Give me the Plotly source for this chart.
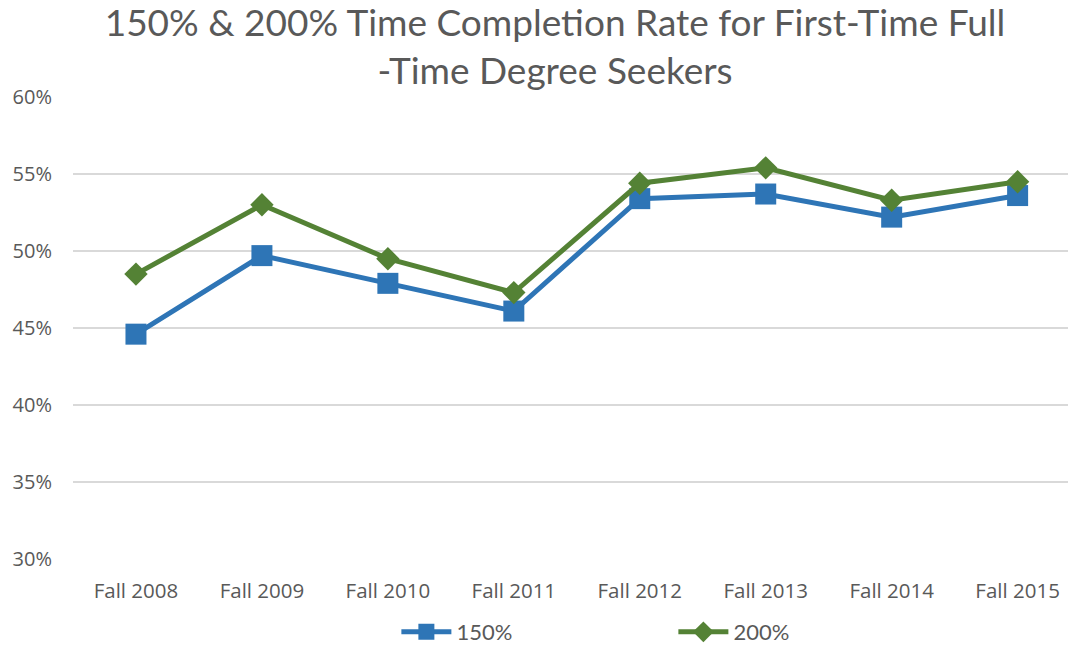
import plotly.graph_objects as go

# Cohort labels and completion rates (fractions)
cohorts = ["Fall 2008", "Fall 2009", "Fall 2010", "Fall 2011",
           "Fall 2012", "Fall 2013", "Fall 2014", "Fall 2015"]
rate_150 = [0.446, 0.497, 0.479, 0.461, 0.534, 0.537, 0.522, 0.536]
rate_200 = [0.485, 0.530, 0.495, 0.473, 0.544, 0.554, 0.533, 0.545]

y_ticks = [0.30, 0.35, 0.40, 0.45, 0.50, 0.55, 0.60]
y_tick_text = ["30%", "35%", "40%", "45%", "50%", "55%", "60%"]

BLUE = "#2E75B6"
GREEN = "#548235"
TEXT = "#595959"
GRID = "#D9D9D9"

fig = go.Figure()
fig.add_trace(go.Scatter(
    x=list(range(len(cohorts))), y=rate_150, name="150%",
    mode="lines+markers",
    line=dict(color=BLUE, width=5),
    marker=dict(symbol="square", size=21, color=BLUE),
))
fig.add_trace(go.Scatter(
    x=list(range(len(cohorts))), y=rate_200, name="200%",
    mode="lines+markers",
    line=dict(color=GREEN, width=5),
    marker=dict(symbol="diamond", size=18, color=GREEN),
))

fig.update_layout(
    width=1068, height=645,
    margin=dict(l=73, r=0, t=97, b=86, autoexpand=False),
    paper_bgcolor="white", plot_bgcolor="white",
    title=dict(
        text="150% & 200% Time Completion Rate for First-Time Full<br>-Time Degree Seekers",
        x=555 / 1068, xanchor="center", xref="container",
        y=1 - 36 / 645, yanchor="middle", yref="container",
        font=dict(family="Lato, Open Sans, sans-serif", size=37, color=TEXT),
    ),
    font=dict(family="Open Sans, Noto Sans, sans-serif", color=TEXT),
    showlegend=True,
    legend=dict(
        orientation="h", x=0.325, xanchor="left", y=-0.158, yanchor="middle",
        entrywidth=212, entrywidthmode="pixels",
        font=dict(size=22, color=TEXT, family="Lato, Open Sans, sans-serif"),
        itemwidth=50,
    ),
)

fig.update_xaxes(
    range=[-0.5, 7.4],
    tickmode="array", tickvals=list(range(len(cohorts))), ticktext=cohorts,
    showgrid=False, zeroline=False, showline=False,
    ticks="", ticklabelstandoff=17,
    tickfont=dict(size=20.5, color=TEXT),
    fixedrange=True,
)
fig.update_yaxes(
    range=[0.30, 0.60],
    tickmode="array", tickvals=y_ticks, ticktext=y_tick_text,
    showgrid=True, gridcolor=GRID, gridwidth=1.5,
    zeroline=False, showline=False,
    ticks="", ticklabelstandoff=20,
    tickfont=dict(size=20, color=TEXT),
    fixedrange=True,
)

fig.write_html("out.html")
